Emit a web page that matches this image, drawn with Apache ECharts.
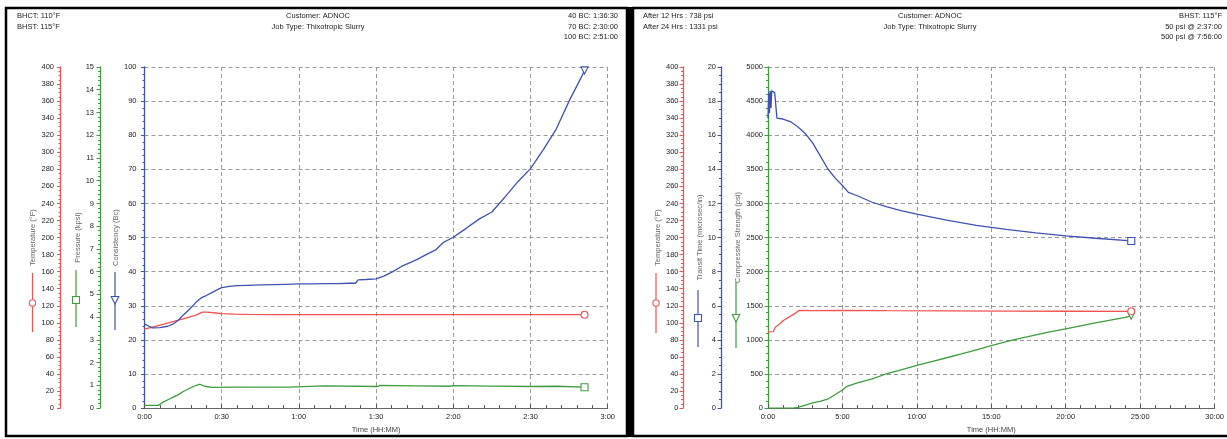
<!DOCTYPE html>
<html><head><meta charset="utf-8">
<script src="https://cdn.jsdelivr.net/npm/echarts@6/dist/echarts.min.js"></script>
<style>html,body{margin:0;padding:0;background:#fff}#c{width:1227px;height:439px}</style>
</head><body><div id="c"></div>
<script>
// ---------- LEFT PANEL DATA (time in minutes) ----------
const consTime = [0, 1, 3, 6, 9, 11, 13, 15, 17.5, 20, 22, 24, 26, 28, 30, 33, 36, 40, 45, 50, 55, 60, 65, 70, 75, 80, 82, 83, 86, 90, 93, 96.5, 100, 103, 106, 110, 113, 116, 120, 125, 130, 135, 140, 145, 150, 155, 160, 165, 170, 171];
const consistency = [24.6, 24.3, 23.5, 23.6, 24.0, 24.6, 25.7, 27.2, 29.0, 31.0, 32.3, 33.0, 33.8, 34.6, 35.3, 35.7, 35.9, 36.0, 36.1, 36.2, 36.3, 36.4, 36.4, 36.5, 36.5, 36.6, 36.6, 37.6, 37.7, 37.9, 38.7, 40.0, 41.6, 42.6, 43.6, 45.2, 46.3, 48.5, 50.1, 52.7, 55.4, 57.5, 61.8, 66.3, 70.2, 75.8, 81.8, 90.0, 97.4, 99.0];
const tempTimeL = [0, 5, 10, 15, 20, 22.5, 24, 27, 30, 35, 40, 50, 60, 80, 100, 120, 140, 160, 171];
const tempL = [92.5, 96.5, 100.5, 104.5, 109, 112.5, 112.6, 111.8, 110.8, 110.2, 109.8, 109.6, 109.5, 109.5, 109.6, 109.5, 109.6, 109.6, 109.5];
const presTime = [0, 5.4, 7, 9.9, 11, 13, 15.1, 17, 19, 21.6, 23, 24.2, 26, 36.4, 46, 56, 56.6, 70, 90.7, 91.5, 105, 118.7, 119.5, 135, 151, 151.6, 160, 171];
const pressure = [0.12, 0.12, 0.25, 0.41, 0.47, 0.58, 0.73, 0.84, 0.95, 1.05, 0.98, 0.95, 0.91, 0.92, 0.92, 0.92, 1.0, 0.98, 0.95, 1.0, 0.98, 0.96, 0.99, 0.97, 0.95, 0.99, 0.96, 0.92];
const leftTicks = [0, 30, 60, 90, 120, 150, 180];

// ---------- RIGHT PANEL DATA (time in hours) ----------
const transitHr = [0, 0.05, 0.1, 0.15, 0.2, 0.25, 0.3, 0.45, 0.52, 0.55, 0.6, 1.0, 1.5, 2.0, 2.5, 3.0, 3.5, 4.0, 4.5, 5.0, 5.4, 6.0, 7.0, 8.0, 9.0, 10.0, 12.0, 14.0, 16.0, 18.0, 20.0, 22.0, 24.4];
const transit = [17.0, 18.5, 17.3, 18.6, 17.6, 18.6, 18.56, 18.5, 18.45, 18.4, 17.0, 16.95, 16.8, 16.5, 16.1, 15.55, 14.8, 14.05, 13.5, 13.05, 12.65, 12.45, 12.07, 11.8, 11.57, 11.37, 11.02, 10.72, 10.48, 10.28, 10.1, 9.96, 9.8];
const tempHrR = [0, 0.35, 0.5, 0.8, 1.0, 1.3, 1.6, 1.9, 2.1, 3, 5, 8, 12, 16, 20, 24.4];
const tempR = [89.4, 89.6, 95, 99, 102.5, 105.5, 108.8, 112, 114.6, 114.4, 114.6, 114.2, 114.0, 113.8, 113.6, 113.5];
const strHr = [0, 1.7, 2.0, 2.3, 2.62, 3.0, 3.5, 4.0, 4.5, 5.0, 5.3, 6.0, 7.0, 7.93, 9.0, 10.0, 11.0, 12.0, 13.0, 14.0, 15.0, 16.0, 17.0, 18.0, 19.0, 20.0, 21.0, 22.0, 23.0, 24.0, 24.4];
const strength = [0, 0, 10, 28, 50, 75, 100, 130, 195, 265, 320, 370, 430, 500, 565, 625, 683, 738, 795, 855, 915, 975, 1025, 1075, 1120, 1160, 1205, 1250, 1290, 1331, 1355];
const rightTicks = [0, 5, 10, 15, 20, 25, 30];

const headerL1 = ['BHCT: 110°F', 'BHST: 115°F'];
const headerL2 = ['Customer: ADNOC', 'Job Type: Thixotropic Slurry'];
const headerL3 = ['40 BC: 1:36:30', '70 BC: 2:30:00', '100 BC: 2:51:00'];
const headerR1 = ['After 12 Hrs : 738 psi', 'After 24 Hrs : 1331 psi'];
const headerR2 = ['Customer: ADNOC', 'Job Type: Thixotropic Slurry'];
const headerR3 = ['BHST: 115°F', '50 psi @ 2:37:00', '500 psi @ 7:56:00'];

const RED = '#f05252', GREEN = '#3f9b3f', BLUE = '#3f52b2';
const FONT = "'Liberation Sans', Arial, sans-serif";
const FS = 7.5;

const pairs = (xs, ys) => xs.map((x, i) => [x, ys[i]]);
const fmtMin = v => { const h = Math.floor(v / 60), m = Math.round(v % 60); return h + ':' + (m < 10 ? '0' : '') + m; };
const fmtHr = v => v + ':00';

function yAx(grid, color, min, max, interval, minorSplit, name, offset, nameGap, margin, split) {
  return {
    type: 'value', gridIndex: grid, position: 'left', offset: offset, min: min, max: max, interval: interval,
    name: name, nameLocation: 'middle', nameRotate: 90, nameGap: nameGap,
    nameTextStyle: { fontSize: FS, color: '#666', fontFamily: FONT },
    axisLine: { show: true, lineStyle: { color: color, width: 1.3 } },
    axisTick: { show: true, length: 3.5, lineStyle: { color: color } },
    minorTick: { show: true, splitNumber: minorSplit, length: 2, lineStyle: { color: color } },
    axisLabel: { fontSize: FS, color: '#222', margin: margin, fontFamily: FONT, formatter: v => String(v) },
    splitLine: { show: !!split, lineStyle: { color: '#9a9a9a', type: [4, 3], width: 1 } },
    minorSplitLine: { show: false }
  };
}
function xAx(grid, max, interval, fmt) {
  return {
    type: 'value', gridIndex: grid, min: 0, max: max, interval: interval,
    name: 'Time (HH:MM)', nameLocation: 'middle', nameGap: 15,
    nameTextStyle: { fontSize: FS, color: '#444', fontFamily: FONT },
    axisLine: { show: true, onZero: false, lineStyle: { color: '#666', width: 1 } },
    axisTick: { show: true, inside: true, length: 4, lineStyle: { color: '#555' } },
    minorTick: { show: true, splitNumber: 5, length: 3, lineStyle: { color: '#555' } },
    axisLabel: { fontSize: FS, color: '#222', margin: 5, fontFamily: FONT, formatter: fmt, showMaxLabel: true, showMinLabel: true },
    splitLine: { show: true, lineStyle: { color: '#9a9a9a', type: [4, 3], width: 1 } }
  };
}
function ser(xi, yi, data, color, sym, rot) {
  const n = data.length;
  return {
    type: 'line', xAxisIndex: xi, yAxisIndex: yi, data: data, animation: false,
    showSymbol: true, showAllSymbol: true,
    symbol: (v, p) => p.dataIndex === n - 1 ? sym : 'none',
    symbolSize: 7, symbolRotate: rot || 0,
    lineStyle: { color: color, width: 1.3 },
    itemStyle: { color: '#fff', borderColor: color, borderWidth: 1.1 },
    emphasis: { disabled: true }, silent: true, z: 3
  };
}
function hdr(lines, x, y, align) {
  return { type: 'text', x: x, y: y, z: 10, style: { text: lines.join('\n'), align: align, verticalAlign: 'top', fontSize: FS, fontFamily: FONT, fill: '#222', lineHeight: 10.5 } };
}
function glyph(x, y1, y2, ym, color, kind) {
  const els = [{ type: 'line', z: 10, shape: { x1: x, y1: y1, x2: x, y2: y2 }, style: { stroke: color, lineWidth: 1.2 } }];
  const st = { fill: '#fff', stroke: color, lineWidth: 1.1 };
  if (kind === 'circle') els.push({ type: 'circle', z: 11, shape: { cx: x, cy: ym, r: 3.2 }, style: st });
  else if (kind === 'rect') els.push({ type: 'rect', z: 11, shape: { x: x - 3.5, y: ym - 3.5, width: 7, height: 7 }, style: st });
  else els.push({ type: 'polygon', z: 11, shape: { points: [[x - 3.8, ym - 3.5], [x + 3.8, ym - 3.5], [x, ym + 4]] }, style: st });
  return els;
}

const chart = echarts.init(document.getElementById('c'), null, { renderer: 'canvas' });
chart.setOption({
  backgroundColor: '#fff',
  animation: false,
  grid: [
    { left: 144.5, right: 1227 - 607.7, top: 67, bottom: 29, containLabel: false },
    { left: 768, right: 1227 - 1215, top: 67, bottom: 29, containLabel: false }
  ],
  xAxis: [
    xAx(0, leftTicks[leftTicks.length - 1], leftTicks[1] - leftTicks[0], fmtMin),
    xAx(1, rightTicks[rightTicks.length - 1], rightTicks[1] - rightTicks[0], fmtHr)
  ],
  yAxis: [
    yAx(0, BLUE, 0, 100, 10, 5, 'Consistency (Bc)', 0, 23.5, 8, true),
    yAx(0, GREEN, 0, 15, 1, 5, 'Pressure (kpsi)', 44.5, 18.5, 6, false),
    yAx(0, RED, 0, 400, 20, 4, 'Temperature (°F)', 84, 23.5, 6.5, false),
    yAx(1, GREEN, 0, 5000, 500, 5, 'Compressive Strength (psi)', 0, 25.5, 5, true),
    yAx(1, BLUE, 0, 20, 2, 4, 'Transit Time (microsec/in)', 47, 15.5, 5, false),
    yAx(1, RED, 0, 400, 20, 4, 'Temperature (°F)', 85, 21.5, 4.5, false)
  ],
  series: [
    ser(0, 1, pairs(presTime, pressure), GREEN, 'rect'),
    ser(0, 2, pairs(tempTimeL, tempL), RED, 'circle'),
    ser(0, 0, pairs(consTime, consistency), BLUE, 'triangle', 180),
    ser(1, 3, pairs(strHr, strength), GREEN, 'triangle', 180),
    ser(1, 5, pairs(tempHrR, tempR), RED, 'circle'),
    ser(1, 4, pairs(transitHr, transit), BLUE, 'rect')
  ],
  graphic: [
    { type: 'rect', z: 0, shape: { x: 6, y: 8, width: 621, height: 428 }, style: { fill: null, stroke: '#000', lineWidth: 2.5 } },
    { type: 'rect', z: 0, shape: { x: 627, y: 7, width: 6, height: 430 }, style: { fill: '#000' } },
    { type: 'rect', z: 0, shape: { x: 633, y: 8, width: 600, height: 428 }, style: { fill: null, stroke: '#000', lineWidth: 2.5 } },
    hdr(headerL1, 17, 11, 'left'),
    hdr(headerL2, 318, 11, 'center'),
    hdr(headerL3, 618, 11, 'right'),
    hdr(headerR1, 643, 11, 'left'),
    hdr(headerR2, 930, 11, 'center'),
    hdr(headerR3, 1222, 11, 'right'),
    ...glyph(32.5, 273, 332, 303, RED, 'circle'),
    ...glyph(76, 270, 327, 300, GREEN, 'rect'),
    ...glyph(115, 272, 330, 300, BLUE, 'tri'),
    ...glyph(656, 273, 333, 303, RED, 'circle'),
    ...glyph(698, 290, 347, 318, BLUE, 'rect'),
    ...glyph(736, 282, 348, 318, GREEN, 'tri')
  ]
});
</script></body></html>
